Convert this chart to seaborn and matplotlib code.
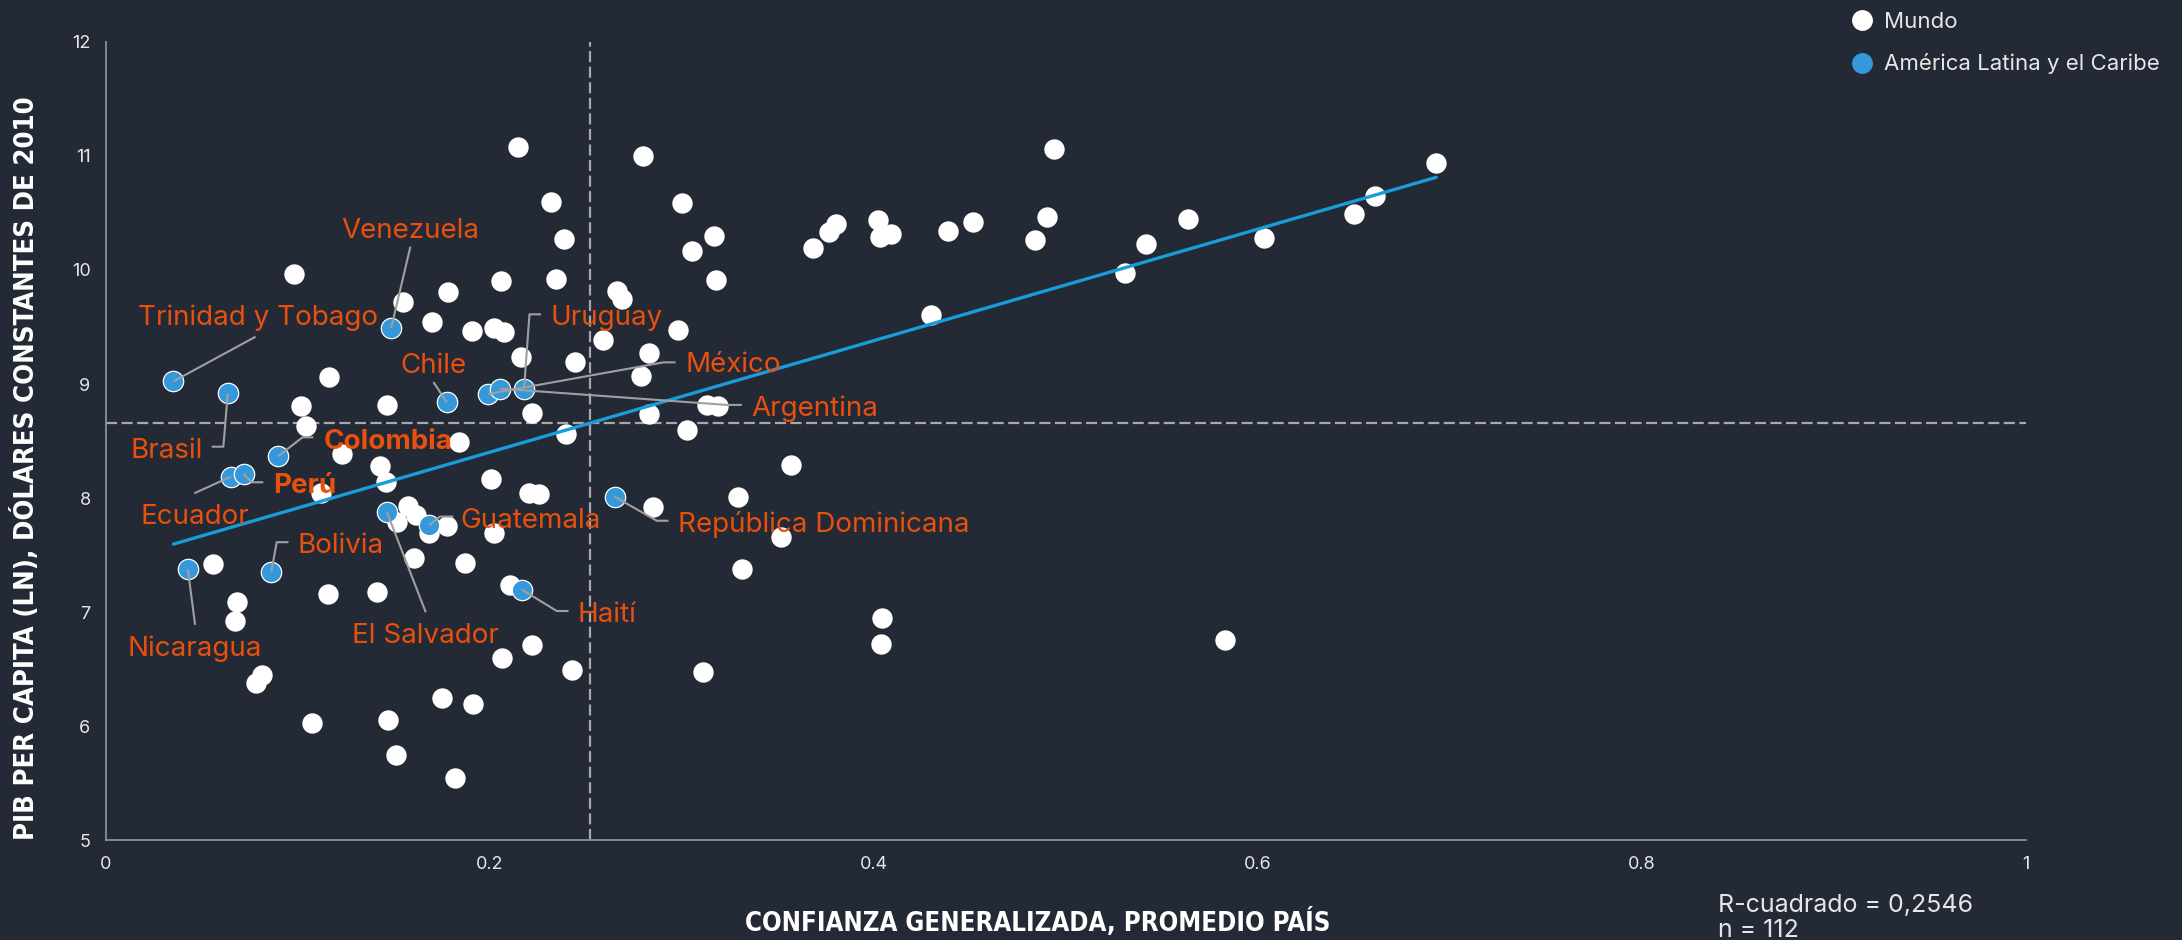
import numpy as np
import pandas as pd
import matplotlib
matplotlib.use("Agg")
import matplotlib.pyplot as plt
from matplotlib.lines import Line2D
from matplotlib.ticker import FixedLocator
import seaborn as sns

# ---------------- DATA ----------------
mundo_confianza = [
    0.2146, 0.2796, 0.4939, 0.6928, 0.2319, 0.3002, 0.6611, 0.6500, 0.5634, 0.4899,
    0.4517, 0.4384, 0.4021, 0.4087, 0.4032, 0.3802, 0.3764, 0.3681, 0.4836, 0.6030,
    0.5415, 0.2384, 0.3165, 0.3054, 0.5306, 0.0980, 0.3178, 0.2346, 0.2059, 0.1549,
    0.1784, 0.2662, 0.2686, 0.1701, 0.4297, 0.1907, 0.2020, 0.2075, 0.2981, 0.2591,
    0.2829, 0.2162, 0.2443, 0.1161, 0.2786, 0.3133, 0.3186, 0.1466, 0.1017, 0.2218,
    0.2827, 0.1041, 0.3027, 0.2395, 0.1839, 0.1232, 0.3567, 0.1430, 0.2007, 0.1457,
    0.1119, 0.2201, 0.2254, 0.2848, 0.3294, 0.1574, 0.1614, 0.1514, 0.1683, 0.1775,
    0.2023, 0.3516, 0.0560, 0.1605, 0.1872, 0.3312, 0.2105, 0.4042, 0.1156, 0.1411,
    0.0682, 0.0675, 0.4034, 0.5828, 0.2221, 0.2062, 0.2430, 0.3109, 0.0812, 0.0783,
    0.1751, 0.1914, 0.1075, 0.1470, 0.1509, 0.1819,
]
mundo_pib = [
    11.080, 11.001, 11.057, 10.938, 10.593, 10.585, 10.651, 10.493, 10.446, 10.467,
    10.423, 10.341, 10.438, 10.312, 10.291, 10.402, 10.335, 10.195, 10.260, 10.277,
    10.224, 10.274, 10.298, 10.163, 9.976, 9.965, 9.915, 9.921, 9.906, 9.716,
    9.805, 9.818, 9.745, 9.548, 9.605, 9.468, 9.494, 9.456, 9.471, 9.389,
    9.270, 9.238, 9.190, 9.062, 9.071, 8.817, 8.807, 8.813, 8.807, 8.744,
    8.740, 8.635, 8.601, 8.560, 8.493, 8.384, 8.291, 8.285, 8.168, 8.145,
    8.049, 8.043, 8.034, 7.920, 8.013, 7.932, 7.854, 7.794, 7.693, 7.756,
    7.693, 7.663, 7.423, 7.479, 7.429, 7.379, 7.239, 6.948, 7.157, 7.178,
    7.088, 6.927, 6.720, 6.757, 6.713, 6.602, 6.494, 6.477, 6.451, 6.378,
    6.251, 6.199, 6.033, 6.054, 5.746, 5.548,
]

alc_paises = [
    "Trinidad y Tobago", "Brasil", "Colombia", "Ecuador", "Perú", "Nicaragua",
    "Bolivia", "Venezuela", "Chile", "El Salvador", "Guatemala", "Haití",
    "México", "Argentina", "Uruguay", "República Dominicana",
]
alc_confianza = [
    0.0352, 0.0635, 0.0897, 0.0652, 0.0717, 0.0427, 0.0862, 0.1486, 0.1775, 0.1464,
    0.1683, 0.2167, 0.1991, 0.2054, 0.2178, 0.2649,
]
alc_pib = [
    9.024, 8.920, 8.367, 8.189, 8.212, 7.377, 7.356, 9.491, 8.840, 7.876,
    7.762, 7.198, 8.913, 8.960, 8.960, 8.013,
]

media_confianza = 0.252
media_pib = 8.66
x_ticks = [0, 0.2, 0.4, 0.6, 0.8, 1]
x_tick_labels = ["0", "0.2", "0.4", "0.6", "0.8", "1"]
y_ticks = [5, 6, 7, 8, 9, 10, 11, 12]
r_cuadrado = "R-cuadrado = 0,2546"
n_text = "n = 112"
paises_negrita = ["Colombia", "Perú"]

# ---------------- LABEL LAYOUT ----------------
# text anchor (x, baseline y), alignment, leader path after the marker
layout = {
    "Trinidad y Tobago": ((0.0791, 9.517), "center", [(0.078, 9.415)]),
    "Venezuela": ((0.1588, 10.283), "center", [(0.1586, 10.204)]),
    "Chile": ((0.1707, 9.100), "center", [(0.1706, 9.018)]),
    "Uruguay": ((0.2313, 9.517), "left", [(0.2206, 9.611), (0.2266, 9.611)]),
    "México": ((0.3016, 9.102), "left", [(0.2904, 9.19), (0.2967, 9.19)]),
    "Argentina": ((0.3360, 8.720), "left", [(0.3233, 8.817), (0.3312, 8.817)]),
    "Brasil": ((0.0505, 8.355), "right", [(0.0612, 8.451), (0.0551, 8.451)]),
    "Colombia": ((0.1133, 8.428), "left", [(0.1024, 8.533), (0.1081, 8.533)]),
    "Perú": ((0.0870, 8.049), "left", [(0.076, 8.139), (0.082, 8.139)]),
    "Ecuador": ((0.0462, 7.771), "center", [(0.0461, 8.043)]),
    "Bolivia": ((0.0998, 7.517), "left", [(0.089, 7.614), (0.0951, 7.614)]),
    "Nicaragua": ((0.0465, 6.617), "center", [(0.0465, 6.889)]),
    "El Salvador": ((0.1665, 6.728), "center", [(0.1666, 7.0)]),
    "Guatemala": ((0.1848, 7.735), "left", [(0.174, 7.838), (0.181, 7.838)]),
    "Haití": ((0.2456, 6.918), "left", [(0.2348, 7.011), (0.2409, 7.011)]),
    "República Dominicana": ((0.2981, 7.706), "left", [(0.2869, 7.802), (0.293, 7.802)]),
}

# ---------------- STYLE ----------------
BG = "#232935"
WHITE = "#ffffff"
BLUE = "#3498db"
LINE_BLUE = "#1a9cd8"
ORANGE = "#e8500e"
LEADER = "#a0a0a0"
DASH = "#a8a8a8"
SPINE = "#8c8f96"
TXT = "#e6e6e6"

sns.set_theme(style="dark")
plt.rcParams["font.family"] = ["Inter", "DejaVu Sans"]
COND = ["DejaVu Sans"]

df_mundo = pd.DataFrame({"confianza": mundo_confianza, "pib": mundo_pib, "grupo": "Mundo"})
df_alc = pd.DataFrame({"pais": alc_paises, "confianza": alc_confianza, "pib": alc_pib,
                       "grupo": "América Latina y el Caribe"})
df_all = pd.concat([df_mundo, df_alc], ignore_index=True)

fig, ax = plt.subplots(figsize=(21.82, 9.40), dpi=100)
fig.patch.set_facecolor(BG)
ax.set_facecolor(BG)
fig.subplots_adjust(left=0.0485, right=0.9286, bottom=0.1059, top=0.9556)

ax.axvline(media_confianza, color=DASH, lw=1.6, ls=(0, (5, 2)), zorder=1)
ax.axhline(media_pib, color=DASH, lw=1.6, ls=(0, (5, 2)), zorder=1)

sns.scatterplot(data=df_mundo, x="confianza", y="pib", color=WHITE, s=215,
                linewidth=0, ax=ax, zorder=2, legend=False)
sns.regplot(data=df_all, x="confianza", y="pib", scatter=False, ci=None,
            color=LINE_BLUE, line_kws=dict(lw=2.4, zorder=3), ax=ax, truncate=True)
sns.scatterplot(data=df_alc, x="confianza", y="pib", color=BLUE, s=215,
                edgecolor=WHITE, linewidth=0.9, ax=ax, zorder=4, legend=False)

# labels with leader lines
for pais, cx, cy in zip(alc_paises, alc_confianza, alc_pib):
    (tx, ty), ha, path = layout[pais]
    xs = [cx] + [p[0] for p in path]
    ys = [cy] + [p[1] for p in path]
    ax.plot(xs, ys, color=LEADER, lw=1.5, zorder=5, solid_capstyle="butt")
    ax.text(tx, ty, pais, ha=ha, va="baseline", color=ORANGE, fontsize=20,
            fontweight="bold" if pais in paises_negrita else "normal", zorder=6)

ax.set_xlim(0, 1)
ax.set_ylim(5, 12)
ax.xaxis.set_major_locator(FixedLocator(x_ticks))
ax.set_xticklabels(x_tick_labels)
ax.yaxis.set_major_locator(FixedLocator(y_ticks))
ax.set_yticklabels([str(v) for v in y_ticks])
ax.tick_params(axis="both", colors=SPINE, labelcolor=TXT, labelsize=13,
               length=5, width=1.2, direction="out", pad=6)
ax.grid(False)
for side in ["top", "right"]:
    ax.spines[side].set_visible(False)
for side in ["left", "bottom"]:
    ax.spines[side].set_visible(True)
    ax.spines[side].set_color(SPINE)
    ax.spines[side].set_linewidth(1.3)

ax.set_xlabel("CONFIANZA GENERALIZADA, PROMEDIO PAÍS", color=WHITE, fontsize=18.5,
              fontweight="bold", family=COND, fontstretch="condensed")
ax.set_ylabel("PIB PER CAPITA (LN), DÓLARES CONSTANTES DE 2010", color=WHITE,
              fontsize=19.7, fontweight="bold", family=COND, fontstretch="condensed")
ax.xaxis.set_label_coords(0.4855, -0.084)
ax.yaxis.set_label_coords(-0.0345, 0.466)

# legend
handles = [
    Line2D([], [], marker="o", ls="", markerfacecolor=WHITE, markeredgecolor=WHITE,
           markersize=14, label="Mundo"),
    Line2D([], [], marker="o", ls="", markerfacecolor=BLUE, markeredgecolor=BLUE,
           markersize=14, label="América Latina y el Caribe"),
]
leg = fig.legend(handles=handles, loc="upper left", bbox_to_anchor=(0.8481, 0.987),
                 frameon=False, fontsize=16, handlelength=1.0, handletextpad=0.5,
                 labelspacing=0.95, borderpad=0, borderaxespad=0)
for t in leg.get_texts():
    t.set_color(TXT)

fig.text(1718 / 2182, 1 - 912 / 940, r_cuadrado, color=TXT, fontsize=18, va="baseline")
fig.text(1718 / 2182, 1 - 937 / 940, n_text, color=TXT, fontsize=18, va="baseline")

fig.savefig("out.png", dpi=100, facecolor=BG)
